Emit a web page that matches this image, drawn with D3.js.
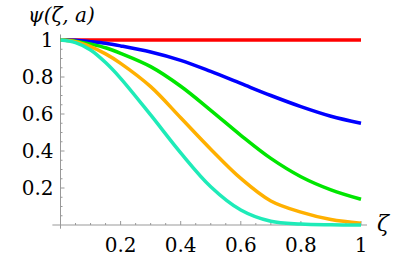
<!DOCTYPE html>
<html>
<head>
<meta charset="utf-8">
<script src="https://cdn.jsdelivr.net/npm/d3@7"></script>
<style>
  body { margin: 0; background: #fff; }
</style>
</head>
<body>
<div id="chart"></div>
<script>
// data
var zeta = [0, 0.05, 0.1, 0.15, 0.2, 0.3, 0.4, 0.5, 0.6, 0.7, 0.8, 0.9, 1];
var red = [1, 1, 1, 1, 1, 1, 1, 1, 1, 1, 1, 1, 1];
var blue = [1, 0.998, 0.991, 0.982, 0.968, 0.935, 0.89, 0.83, 0.765, 0.70, 0.64, 0.588, 0.55];
var green = [1, 0.994, 0.978, 0.958, 0.928, 0.856, 0.75, 0.62, 0.485, 0.36, 0.261, 0.19, 0.139];
var orange = [1, 0.991, 0.964, 0.925, 0.874, 0.748, 0.58, 0.41, 0.252, 0.13, 0.07, 0.03, 0.01];
var cyan = [1, 0.986, 0.946, 0.878, 0.793, 0.595, 0.39, 0.207, 0.081, 0.02, 0.005, 0.001, 0];
var xTicks = [0.2, 0.4, 0.6, 0.8, 1];
var yTicks = [0.2, 0.4, 0.6, 0.8, 1];

var series = [
  { values: red, color: "#ff0000" },
  { values: blue, color: "#0000ff" },
  { values: green, color: "#00e600" },
  { values: orange, color: "#ffb000" },
  { values: cyan, color: "#1eebb8" }
];

var W = 415, H = 257;
var serif = "'DejaVu Serif', 'Liberation Serif', 'Times New Roman', serif";

var svg = d3.select("#chart")
  .append("svg")
  .attr("width", W)
  .attr("height", H);

// scales
var x = d3.scaleLinear().domain([0, 1]).range([60.5, 361]);
var y = d3.scaleLinear().domain([0, 1]).range([225, 40]);

var axisColor = "#999";

// x axis line
svg.append("line")
  .attr("x1", x(-0.027)).attr("x2", x(1.02))
  .attr("y1", y(0)).attr("y2", y(0))
  .attr("stroke", axisColor).attr("stroke-width", 1);

// y axis line
svg.append("line")
  .attr("x1", x(0)).attr("x2", x(0))
  .attr("y1", y(-0.02)).attr("y2", y(1.03))
  .attr("stroke", axisColor).attr("stroke-width", 1);

// ticks every 0.05, longer on the labelled ones
var minor = d3.range(1, 21).map(function (i) { return i * 0.05; });
function tickLen(d) {
  return Math.abs(d * 5 - Math.round(d * 5)) < 1e-6 ? 4 : 2;
}

svg.append("g").selectAll("line")
  .data(minor)
  .enter()
  .append("line")
  .attr("x1", function (d) { return x(d); })
  .attr("x2", function (d) { return x(d); })
  .attr("y1", y(0))
  .attr("y2", function (d) { return y(0) - tickLen(d); })
  .attr("stroke", axisColor);

svg.append("g").selectAll("line")
  .data(minor)
  .enter()
  .append("line")
  .attr("y1", function (d) { return y(d); })
  .attr("y2", function (d) { return y(d); })
  .attr("x1", x(0))
  .attr("x2", function (d) { return x(0) + tickLen(d); })
  .attr("stroke", axisColor);

// tick labels
svg.append("g").selectAll("text")
  .data(xTicks)
  .enter()
  .append("text")
  .attr("x", function (d) { return x(d); })
  .attr("y", 252)
  .attr("text-anchor", "middle")
  .style("font-family", serif)
  .style("font-size", "20px")
  .text(function (d) { return d3.format("")(d); });

svg.append("g").selectAll("text")
  .data(yTicks)
  .enter()
  .append("text")
  .attr("x", x(0) - 7)
  .attr("y", function (d) { return y(d); })
  .attr("dy", "0.35em")
  .attr("text-anchor", "end")
  .style("font-family", serif)
  .style("font-size", "20px")
  .text(function (d) { return d3.format("")(d); });

// axis labels
svg.append("text")
  .attr("x", 28)
  .attr("y", 22)
  .style("font-family", serif)
  .style("font-size", "20px")
  .style("font-style", "italic")
  .text("ψ(ζ, a)");

svg.append("text")
  .attr("x", 377)
  .attr("y", 231)
  .style("font-family", serif)
  .style("font-size", "22px")
  .style("font-style", "italic")
  .text("ζ");

// curves
var line = d3.line()
  .x(function (d, i) { return x(zeta[i]); })
  .y(function (d) { return y(d); })
  .curve(d3.curveCatmullRom.alpha(0.5));

svg.append("g").selectAll("path")
  .data(series)
  .enter()
  .append("path")
  .attr("d", function (d) { return line(d.values); })
  .attr("fill", "none")
  .attr("stroke", function (d) { return d.color; })
  .attr("stroke-width", 3.5);
</script>
</body>
</html>
